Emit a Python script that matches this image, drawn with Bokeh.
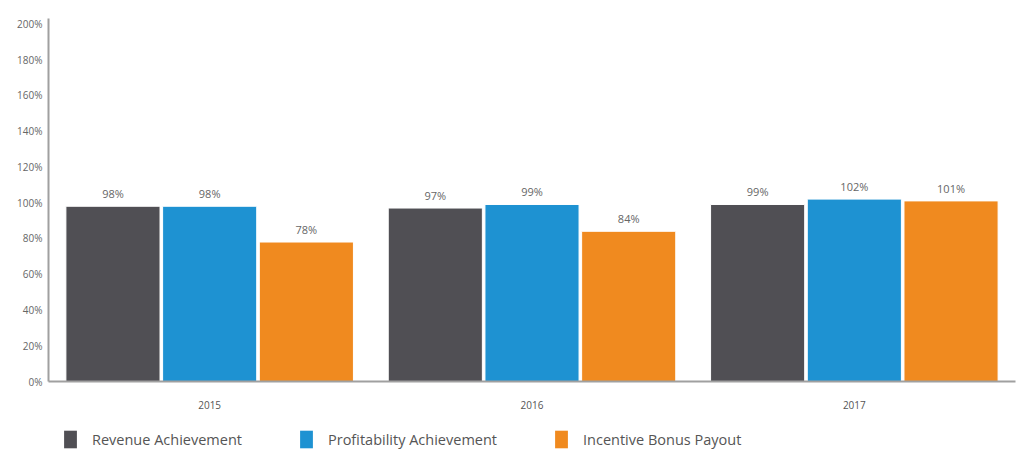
from bokeh.plotting import figure
from bokeh.layouts import column
from bokeh.core.properties import value
from bokeh.models import (ColumnDataSource, FactorRange, Range1d, PrintfTickFormatter,
                          Legend, LegendItem, LabelSet, FixedTicker)
from bokeh.transform import dodge
from bokeh.embed import file_html
from bokeh.resources import INLINE

years = ["2015", "2016", "2017"]
revenue = [98, 97, 99]
profitability = [98, 99, 102]
bonus = [78, 84, 101]
series_names = ["Revenue Achievement", "Profitability Achievement", "Incentive Bonus Payout"]
colors = ["#504f54", "#1e92d2", "#f08a1f"]
y_ticks = [0, 20, 40, 60, 80, 100, 120, 140, 160, 180, 200]

FONT = "Open Sans"

src = ColumnDataSource(dict(
    year=years,
    revenue=revenue,
    profitability=profitability,
    bonus=bonus,
    revenue_lbl=[f"{v}%" for v in revenue],
    profitability_lbl=[f"{v}%" for v in profitability],
    bonus_lbl=[f"{v}%" for v in bonus],
))

p = figure(x_range=FactorRange(*years), y_range=Range1d(0, 203),
           width=1021, height=423, output_backend="svg", toolbar_location=None,
           min_border_left=48, min_border_right=6, min_border_top=18, min_border_bottom=42)

p.background_fill_color = "white"
p.border_fill_color = "white"
p.outline_line_color = None
p.grid.grid_line_color = None
p.x_range.range_padding = 0

keys = ["revenue", "profitability", "bonus"]
offsets = [-0.3, 0.0, 0.3]
for k, off, c in zip(keys, offsets, colors):
    p.vbar(x=dodge("year", off, range=p.x_range), top=k, bottom=0, width=0.292,
           source=src, fill_color=c, line_color="white", line_width=1)
    lbl = LabelSet(x=dodge("year", off, range=p.x_range), y=k, text=k + "_lbl",
                   source=src, text_align="center", text_baseline="bottom",
                   y_offset=5, text_font_size="11px", text_color="#666666",
                   text_font=value(FONT))
    p.add_layout(lbl)

for ax in (p.xaxis, p.yaxis):
    ax.major_tick_line_color = None
    ax.minor_tick_line_color = None
    ax.major_tick_out = 0
    ax.major_tick_in = 0
    ax.minor_tick_out = 0
    ax.axis_line_color = "#a0a0a0"
    ax.axis_line_width = 2
    ax.major_label_text_font_size = "10px"
    ax.major_label_text_font = FONT

p.yaxis.ticker = FixedTicker(ticks=y_ticks)
p.yaxis.formatter = PrintfTickFormatter(format="%d%%")
p.yaxis.major_label_text_color = "#666666"
p.yaxis.major_label_standoff = 6

p.xaxis.major_label_text_color = "#555555"
p.xaxis.major_label_standoff = 19

# legend strip
lg = figure(x_range=Range1d(0, 1), y_range=Range1d(0, 1), width=1021, height=27,
            output_backend="svg", toolbar_location=None,
            x_axis_location=None, y_axis_location=None,
            min_border_left=0, min_border_right=0, min_border_top=0, min_border_bottom=0)
lg.grid.grid_line_color = None
lg.outline_line_color = None
lg.background_fill_color = "white"
lg.border_fill_color = "white"
leg_renderers = []
for c in colors:
    leg_renderers.append(lg.vbar(x=[-5], top=[0], width=0.1, fill_color=c, line_color=None))

legend = Legend(items=[LegendItem(label=n, renderers=[r]) for n, r in zip(series_names, leg_renderers)],
                orientation="horizontal", location=(14, 0),
                glyph_width=16, glyph_height=22, label_standoff=14, spacing=56,
                label_text_font_size="14.5px", label_text_color="#555555", label_text_font=FONT,
                label_height=22,
                border_line_color=None, background_fill_alpha=0, padding=0, margin=0)
lg.add_layout(legend)

layout = column(p, lg, spacing=0)
open("out.html", "w").write(file_html(layout, INLINE))
